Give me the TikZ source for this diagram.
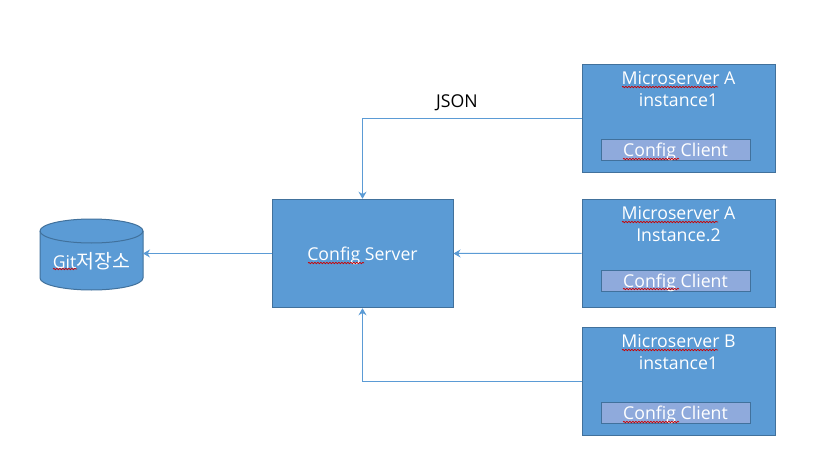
\documentclass[tikz,border=0pt]{standalone}
\usepackage{fontspec}
\setmainfont{Open Sans}
\newfontfamily\krfont[Scale=1.1]{Noto Sans CJK KR}
\usetikzlibrary{positioning,arrows.meta,decorations.pathmorphing}
\definecolor{boxfill}{HTML}{5B9BD5}
\definecolor{boxline}{HTML}{41719C}
\definecolor{clientfill}{HTML}{8FAADC}
\tikzset{
  boxnode/.style={draw=boxline,fill=boxfill,line width=1pt,minimum width=193pt,minimum height=108.5pt,inner sep=0pt},
  clientnode/.style={draw=boxline,fill=clientfill,line width=1pt,minimum width=149pt,minimum height=21pt,inner sep=0pt,text=white,text height=13pt,text depth=0pt,font=\fontsize{17.7}{20}\selectfont},
  titlenode/.style={align=center,inner sep=0pt,text=white,font=\fontsize{17.7}{22}\selectfont},
  link/.style={draw=boxfill,line width=1pt,->},
  capline/.style={x radius=51.5pt,y radius=12pt},
  squiggle/.style={draw=red!80!black,line width=0.7pt,decorate,decoration={snake,amplitude=0.7pt,segment length=3pt}}
}
\begin{document}
\begin{tikzpicture}[x=1pt,y=-1pt,>={Stealth[length=7pt,width=8pt]}]
  \useasboundingbox[fill=white] (0,0) rectangle (815,471);
  % boxes
  \node[boxnode] (msa) at (678.5,118.5) {};
  \node[boxnode] (msi) at (678.5,253.3) {};
  \node[boxnode] (msb) at (678.5,381.3) {};
  \node[boxnode,minimum width=181pt] (server) at (362.5,253.5) {};
  % storage drum
  \draw[draw=boxline,fill=boxfill,line width=1pt] (40,231) -- (40,278)
    arc[capline,start angle=180,end angle=360] -- (143,231)
    arc[capline,start angle=0,end angle=180] -- cycle;
  \draw[draw=boxline,line width=1pt] (40,231) arc[capline,start angle=180,end angle=360];
  \coordinate (gitside) at (143,254);
  % text
  \node[titlenode,below=8pt of msa.north] (msatitle) {Microserver A\\instance1};
  \node[titlenode,below=8pt of msi.north] (msititle) {Microserver A\\Instance.2};
  \node[titlenode,below=8pt of msb.north] (msbtitle) {Microserver B\\instance1};
  \node[clientnode,above=12.2pt of msa.south,xshift=-3pt] (msaclient) {Config Client};
  \node[clientnode,above=16.5pt of msi.south,xshift=-3pt] (msiclient) {Config Client};
  \node[clientnode,above=12pt of msb.south,xshift=-3pt] (msbclient) {Config Client};
  \node[titlenode,text height=13pt,text depth=0pt] (serverlabel) at (server.center) {Config Server};
  \node[titlenode] (gitlabel) at (91.5,261) {Git{\krfont 저장소}};
  \node[titlenode,text=black] (json) at (457,103) {JSON};
  % connectors
  \draw[link] (msa.west) -| (server.north);
  \draw[link] (msi.west) -- (server.east);
  \draw[link] (msb.west) -| (server.south);
  \draw[link] (server.west) -- (server.west -| gitside);
  % spelling marks
  \draw[squiggle] (622,87) -- (718,87);
  \draw[squiggle] (622,222) -- (718,222);
  \draw[squiggle] (622,350) -- (718,350);
  \draw[squiggle] (623,159) -- (679,159);
  \draw[squiggle] (623,289) -- (679,289);
  \draw[squiggle] (623,422) -- (679,422);
  \draw[squiggle] (308,263) -- (364,263);
  \draw[squiggle] (53,269) -- (77,269);
\end{tikzpicture}
\end{document}
